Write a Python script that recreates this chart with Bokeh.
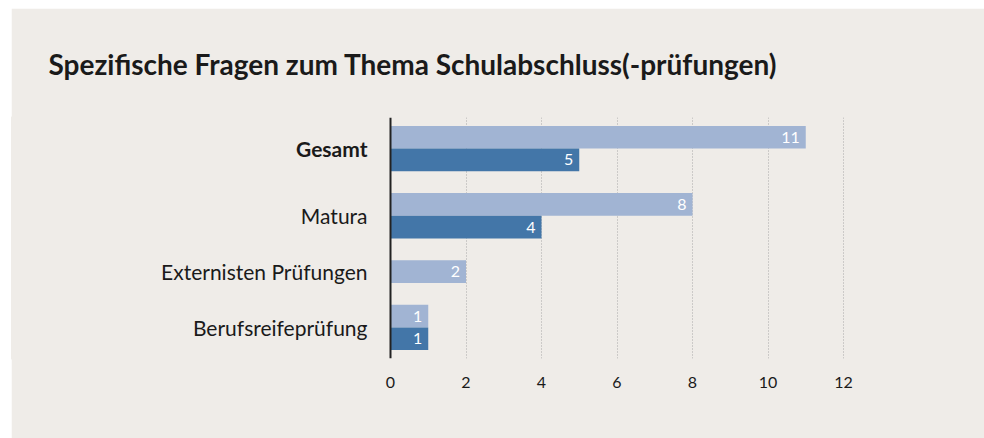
from bokeh.plotting import figure
from bokeh.models import FactorRange, FixedTicker, ColumnDataSource, Span, Range1d
from bokeh.core.properties import value
from bokeh.embed import file_html
from bokeh.resources import INLINE

# ---- data ----
title_text = "Spezifische Fragen zum Thema Schulabschluss(-prüfungen)"
categories = ["Gesamt", "Matura", "Externisten Prüfungen", "Berufsreifeprüfung"]
series_names = ["Serie 1", "Serie 2"]
series_1 = [11, 8, 2, 1]      # light bars
series_2 = [5, 4, None, 1]    # dark bars (none for Externisten Prüfungen)
x_ticks = [0, 2, 4, 6, 8, 10, 12]
bold_categories = ["Gesamt"]

# ---- styles ----
BG = "#efece8"
LIGHT = "#a1b4d3"
DARK = "#4376a8"
TEXT = "#1a1a1a"
FONT = "Lato"

factors = []
bar_y, bar_x, bar_c = [], [], []
for cat, v1, v2 in zip(categories, series_1, series_2):
    for name, v, c in ((series_names[0], v1, LIGHT), (series_names[1], v2, DARK)):
        if v is None:
            continue
        factors.append((cat, name))
        bar_y.append((cat, name))
        bar_x.append(v)
        bar_c.append(c)
factors = factors[::-1]

y_range = FactorRange(factors=factors, factor_padding=0, group_padding=22 / 23,
                      range_padding=8.5 / 23, range_padding_units="absolute")

p = figure(width=973, height=430, y_range=y_range, x_range=Range1d(-10.040, 15.735),
           output_backend="svg", toolbar_location=None,
           min_border_left=0, min_border_right=0, min_border_top=107, min_border_bottom=80,
           background_fill_color=BG, border_fill_color=BG,
           outline_line_color=BG, outline_line_width=2)
p.margin = (8, 0, 0, 11)

p.title.text = title_text
p.title.text_font = FONT
p.title.text_font_size = "28px"
p.title.text_font_style = "bold"
p.title.text_color = TEXT
p.title.align = "left"
p.title.offset = 37
p.title.standoff = 73

p.yaxis.visible = False
p.ygrid.visible = False

p.xgrid.ticker = FixedTicker(ticks=[t for t in x_ticks if t != 0])
p.xgrid.grid_line_color = "#a8a8a8"
p.xgrid.grid_line_dash = "1 2"
p.xgrid.grid_line_width = 1

ax = p.xaxis[0]
ax.ticker = FixedTicker(ticks=x_ticks)
ax.axis_line_color = None
ax.major_tick_line_color = None
ax.minor_tick_line_color = None
ax.major_label_text_font = FONT
ax.major_label_text_font_size = "16px"
ax.major_label_text_color = TEXT
ax.major_label_standoff = 12

src = ColumnDataSource(dict(y=bar_y, x=bar_x, c=bar_c, lbl=[str(v) for v in bar_x]))
p.hbar(y="y", left=0, right="x", height=1.0, fill_color="c", line_color=None, source=src)

p.text(x="x", y="y", text="lbl", source=src, x_offset=-6,
       text_align="right", text_baseline="middle", text_color="white",
       text_font=value(FONT), text_font_size="16px")

p.add_layout(Span(location=0, dimension="height", line_color="#222222", line_width=2))

for bold in (True, False):
    cats = [c for c in categories if (c in bold_categories) == bold]
    p.text(x=[0] * len(cats), y=cats, text=cats, x_offset=-23,
           text_align="right", text_baseline="middle", text_color=TEXT,
           text_font=value(FONT), text_font_size="21px",
           text_font_style="bold" if bold else "normal")

open("out.html", "w").write(file_html(p, INLINE))
